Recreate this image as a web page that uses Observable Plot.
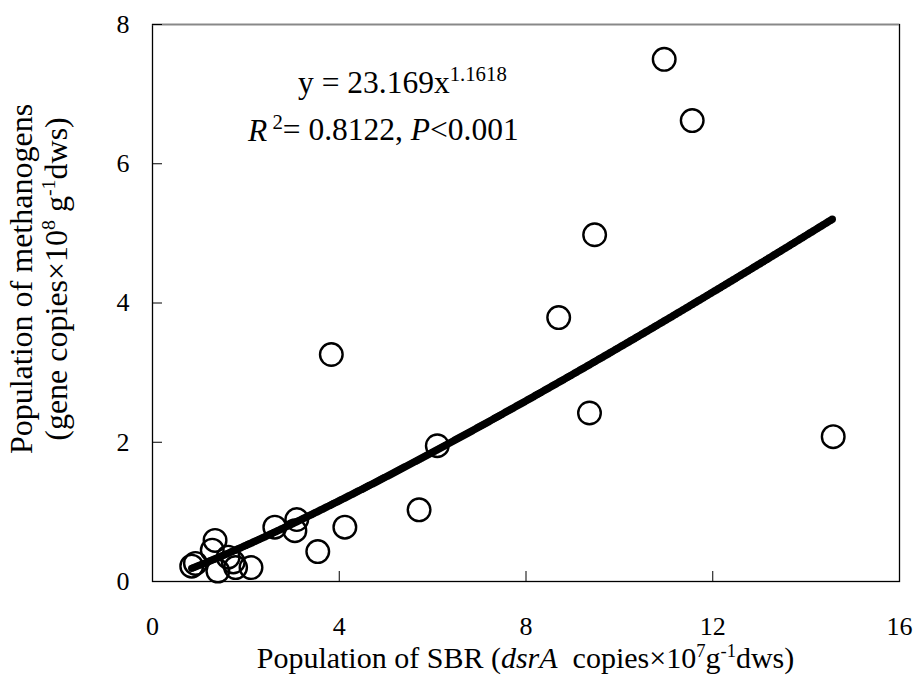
<!DOCTYPE html>
<html><head><meta charset="utf-8">
<script src="https://cdn.jsdelivr.net/npm/d3@7"></script>
<script src="https://cdn.jsdelivr.net/npm/@observablehq/plot@0.6"></script>
<style>body{margin:0;background:#fff} svg{display:block} svg text{font-family:"Liberation Serif",Tinos,"Times New Roman",Times,"DejaVu Serif",serif !important}</style>
</head><body><div id="chart"></div>
<script>
// Observed samples: SBR (dsrA copies ×10^7 g^-1 dws) vs methanogens (gene copies ×10^8 g^-1 dws)
const sbr =         [10.96, 11.56, 9.47, 8.70, 3.83, 9.36, 14.58, 6.10, 5.71, 4.12, 3.54, 3.09, 3.05, 2.62, 2.11, 1.34, 1.28, 0.92, 0.84, 1.40, 1.62, 1.78, 1.73];
const methanogens = [7.50, 6.62, 4.98, 3.79, 3.26, 2.42, 2.08, 1.95, 1.03, 0.78, 0.43, 0.89, 0.73, 0.78, 0.20, 0.59, 0.45, 0.26, 0.22, 0.15, 0.35, 0.20, 0.28];
const xTicks = [0, 4, 8, 12, 16];
const yTicks = [0, 2, 4, 6, 8];
// Power trendline shown in the chart: y = 23.169 x^1.1618 (y printed in 10^6 units -> /100 for 10^8)
const fitCoef = 23.169, fitExp = 1.1618, fitUnit = 100;
const r2Text = "0.8122", pText = "0.001";

const points = sbr.map((x, i) => ({x, y: methanogens[i]}));
const fit = d3.range(d3.min(sbr), d3.max(sbr) + 1e-9, 0.04).map(x => ({x, y: fitCoef * Math.pow(x, fitExp) / fitUnit}));

const W = 922, H = 679, mL = 152, mR = 23, mT = 24, mB = 98;
const plotW = W - mL - mR, plotH = H - mT - mB;
const font = '"Liberation Serif", Tinos, "Times New Roman", Times, "DejaVu Serif", serif';

const chart = Plot.plot({
  width: W, height: H,
  marginLeft: mL, marginRight: mR, marginTop: mT, marginBottom: mB,
  style: {fontFamily: font, background: "#fff", color: "#000"},
  x: {domain: [xTicks[0], xTicks[xTicks.length - 1]]},
  y: {domain: [yTicks[0], yTicks[yTicks.length - 1]]},
  marks: [
    Plot.frame({stroke: "#000", strokeWidth: 1.3}),
    Plot.ruleY([yTicks[yTicks.length - 1]], {stroke: "#888", strokeWidth: 1.3}),
    Plot.tickX(xTicks, {x: d => d, stroke: "#000", insetTop: plotH - 10}),
    Plot.tickY(yTicks, {y: d => d, stroke: "#000", insetRight: plotW - 10}),
    Plot.axisX(xTicks, {tickSize: 0, tickPadding: 35, fontSize: 26, label: null, tickFormat: d => String(d)}),
    Plot.axisY(yTicks, {tickSize: 0, tickPadding: 23, fontSize: 26, label: null, tickFormat: d => String(d)}),
    Plot.dot(fit, {x: "x", y: "y", r: 3.7, fill: "#000", stroke: "none"}),
    Plot.dot(points, {x: "x", y: "y", r: 11.3, stroke: "#000", strokeWidth: 2.4, fill: "none"})
  ]
});
document.getElementById("chart").appendChild(chart);

const svg = d3.select(chart);
function addText(g, parts, supScale = 0.62) {
  parts.forEach(p => {
    const t = g.append("tspan").text(p.t);
    if (p.i) t.attr("font-style", "italic");
    if (p.sup) t.attr("font-size", supScale + "em").attr("dy", "-0.6em");
    if (p.back) t.attr("dy", "0.37em");
  });
}
function label(x, y, size, anchor, rotate) {
  return svg.append("text")
    .attr("transform", `translate(${x},${y})` + (rotate ? " rotate(-90)" : ""))
    .attr("text-anchor", anchor).attr("font-size", size)
    .attr("font-family", font).attr("fill", "#000");
}
// x title
addText(label(mL + plotW / 2, 668, 30, "middle"), [{t: "Population of SBR ("}, {t: "dsrA", i: 1}, {t: "  copies×10"}, {t: "7", sup: 1}, {t: "g", back: 1}, {t: "-1", sup: 1}, {t: "dws)", back: 1}]);
// y title
const cy = 279;
addText(label(32, cy, 32, "middle", true), [{t: "Population of methanogens"}]);
addText(label(67, cy, 32, "middle", true), [{t: "(gene copies×10"}, {t: "8", sup: 1}, {t: " g", back: 1}, {t: "-1", sup: 1}, {t: "dws)", back: 1}]);
// equation
addText(label(298, 93, 31.5, "start"), [{t: "y = " + fitCoef + "x"}, {t: String(fitExp), sup: 1}], 0.66);
addText(label(248, 141, 31.5, "start"), [{t: "R", i: 1}, {t: " 2", sup: 1}, {t: "= " + r2Text + ", ", back: 1}, {t: "P", i: 1}, {t: "<" + pText}], 0.66);
</script></body></html>
